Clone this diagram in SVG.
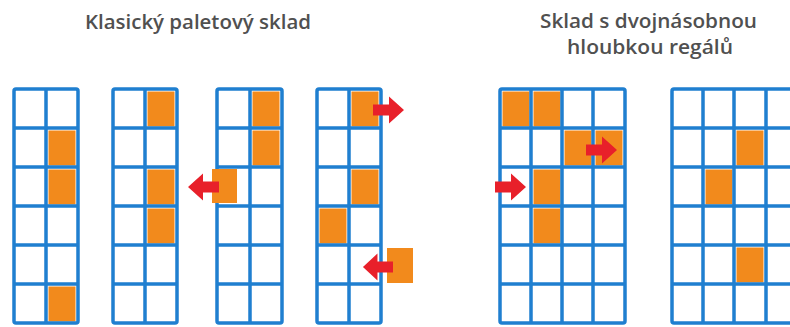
<svg xmlns="http://www.w3.org/2000/svg" xmlns:xlink="http://www.w3.org/1999/xlink" width="790" height="327" viewBox="0 0 790 327">
<style>
.t{font-family:"Open Sans","Noto Sans","Liberation Sans",sans-serif;font-size:20px;font-weight:600;fill:#505050}
.g{fill:none;stroke:#1f7fd0;stroke-width:3.5}
.o{fill:#f28a1c}
.a{fill:#e8202a}
</style>
<defs>
<path id="arr" d="M0,-5.5 H16 V-13.5 L31,0 L16,13.5 V5.5 H0 Z"/>
</defs>
<rect width="790" height="327" fill="#ffffff"/>
<g id="title1"><text class="t" x="85" y="29" textLength="226" lengthAdjust="spacingAndGlyphs">Klasický paletový sklad</text></g>
<g id="title2"><text class="t" x="540" y="28" textLength="217" lengthAdjust="spacingAndGlyphs">Sklad s dvojnásobnou</text><text class="t" x="567" y="54" textLength="166" lengthAdjust="spacingAndGlyphs">hloubkou regálů</text></g>

<g id="rack1">
<rect class="o" x="48.5" y="130.5" width="27" height="35"/>
<rect class="o" x="48.5" y="169.5" width="27" height="35"/>
<rect class="o" x="48.5" y="286.5" width="27" height="35"/>
<rect class="g" x="14" y="89" width="64" height="234" rx="2"/>
<path class="g" d="M46,89V323M14,128H78M14,167H78M14,206H78M14,245H78M14,284H78"/>
</g>

<g id="rack2">
<rect class="o" x="147.5" y="91.5" width="27" height="35"/>
<rect class="o" x="147.5" y="169.5" width="27" height="35"/>
<rect class="o" x="147.5" y="208.5" width="27" height="35"/>
<rect class="g" x="113" y="89" width="64" height="234" rx="2"/>
<path class="g" d="M145,89V323M113,128H177M113,167H177M113,206H177M113,245H177M113,284H177"/>
</g>

<g id="rack3">
<rect class="o" x="252.5" y="91.5" width="27" height="35"/>
<rect class="o" x="252.5" y="130.5" width="27" height="35"/>
<rect class="g" x="217" y="89" width="65" height="234" rx="2"/>
<path class="g" d="M250,89V323M217,128H282M217,167H282M217,206H282M217,245H282M217,284H282"/>
<rect class="o" x="212" y="169" width="25" height="34"/>
<use xlink:href="#arr" class="a" transform="translate(219,187) scale(-1,1)"/>
</g>

<g id="rack4">
<rect class="o" x="351.5" y="91.5" width="27" height="35"/>
<rect class="o" x="351.5" y="169.5" width="27" height="35"/>
<rect class="o" x="319.5" y="208.5" width="27" height="35"/>
<rect class="g" x="317" y="89" width="64" height="234" rx="2"/>
<path class="g" d="M349,89V323M317,128H381M317,167H381M317,206H381M317,245H381M317,284H381"/>
<use xlink:href="#arr" class="a" transform="translate(373,110)"/>
<rect class="o" x="387" y="248" width="26" height="35"/>
<use xlink:href="#arr" class="a" transform="translate(393,267) scale(-0.97,1)"/>
</g>

<g id="rack5">
<rect class="o" x="502.5" y="91.5" width="27" height="35"/>
<rect class="o" x="533.5" y="91.5" width="27" height="35"/>
<rect class="o" x="564.5" y="130.5" width="27" height="35"/>
<rect class="o" x="595.5" y="130.5" width="27" height="35"/>
<rect class="o" x="533.5" y="169.5" width="27" height="35"/>
<rect class="o" x="533.5" y="208.5" width="27" height="35"/>
<rect class="g" x="500" y="89" width="125" height="234" rx="2"/>
<path class="g" d="M531,89V323M562,89V323M593,89V323M500,128H625M500,167H625M500,206H625M500,245H625M500,284H625"/>
<use xlink:href="#arr" class="a" transform="translate(586,150)"/>
<use xlink:href="#arr" class="a" transform="translate(495,187)"/>
</g>

<g id="rack6">
<rect class="o" x="736.5" y="130.5" width="27" height="35"/>
<rect class="o" x="705.5" y="169.5" width="27" height="35"/>
<rect class="o" x="736.5" y="247.5" width="27" height="35"/>
<rect class="g" x="672" y="89" width="125" height="234" rx="2"/>
<path class="g" d="M703,89V323M734,89V323M766,89V323M672,128H797M672,167H797M672,206H797M672,245H797M672,284H797"/>
</g>
<g id="connectors"></g>
</svg>
